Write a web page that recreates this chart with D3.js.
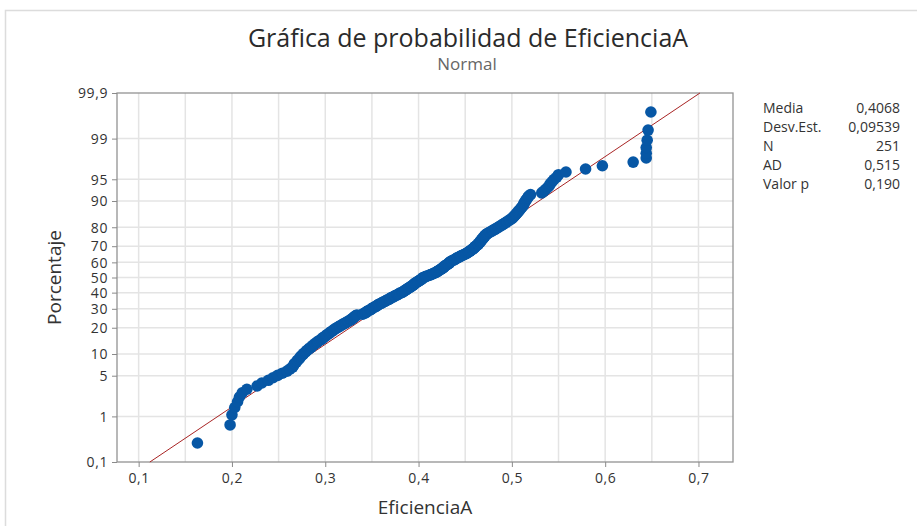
<!DOCTYPE html>
<html>
<head>
<meta charset="utf-8">
<script src="https://cdn.jsdelivr.net/npm/d3@7"></script>
<style>
  body { margin: 0; background: #fff; }
  svg { font-family: 'Open Sans', 'Noto Sans', sans-serif; }
</style>
</head>
<body>
<div id="chart"></div>
<script>
// EficienciaA, sorted
const eficienciaA = [
  0.163, 0.198, 0.200, 0.203, 0.206, 0.208, 0.211, 0.216, 0.227, 0.232,
  0.239, 0.244, 0.249, 0.254, 0.259, 0.262, 0.265, 0.266, 0.267, 0.269,
  0.270, 0.272, 0.273, 0.274, 0.276, 0.277, 0.279, 0.280, 0.282, 0.283,
  0.285, 0.286, 0.288, 0.289, 0.291, 0.292, 0.294, 0.296, 0.297, 0.298,
  0.300, 0.301, 0.302, 0.304, 0.305, 0.306, 0.308, 0.309, 0.310, 0.312,
  0.313, 0.315, 0.316, 0.318, 0.319, 0.321, 0.322, 0.324, 0.325, 0.327,
  0.328, 0.329, 0.330, 0.331, 0.332, 0.333, 0.334, 0.340, 0.341, 0.343,
  0.344, 0.345, 0.346, 0.348, 0.349, 0.350, 0.351, 0.352, 0.354, 0.355,
  0.356, 0.357, 0.358, 0.360, 0.361, 0.362, 0.364, 0.365, 0.366, 0.368,
  0.369, 0.370, 0.371, 0.373, 0.374, 0.375, 0.377, 0.378, 0.379, 0.380,
  0.382, 0.383, 0.384, 0.385, 0.386, 0.387, 0.388, 0.389, 0.390, 0.391,
  0.392, 0.393, 0.394, 0.395, 0.395, 0.396, 0.397, 0.398, 0.399, 0.400,
  0.401, 0.402, 0.403, 0.404, 0.404, 0.405, 0.407, 0.408, 0.410, 0.412,
  0.413, 0.415, 0.416, 0.418, 0.419, 0.420, 0.421, 0.422, 0.423, 0.424,
  0.425, 0.426, 0.427, 0.427, 0.428, 0.429, 0.430, 0.431, 0.432, 0.433,
  0.433, 0.434, 0.435, 0.436, 0.438, 0.439, 0.440, 0.441, 0.442, 0.444,
  0.445, 0.446, 0.448, 0.449, 0.451, 0.452, 0.453, 0.454, 0.455, 0.456,
  0.457, 0.458, 0.459, 0.460, 0.460, 0.461, 0.462, 0.463, 0.464, 0.464,
  0.465, 0.466, 0.466, 0.467, 0.467, 0.468, 0.469, 0.469, 0.470, 0.471,
  0.471, 0.472, 0.473, 0.474, 0.476, 0.477, 0.479, 0.480, 0.482, 0.483,
  0.485, 0.486, 0.488, 0.489, 0.491, 0.492, 0.494, 0.495, 0.497, 0.498,
  0.500, 0.501, 0.502, 0.503, 0.504, 0.505, 0.506, 0.507, 0.508, 0.509,
  0.510, 0.511, 0.512, 0.513, 0.513, 0.514, 0.515, 0.516, 0.517, 0.518,
  0.520, 0.532, 0.534, 0.536, 0.538, 0.540, 0.541, 0.543, 0.545, 0.548,
  0.550, 0.558, 0.579, 0.597, 0.630,
  0.644, 0.644, 0.644, 0.645, 0.646, 0.649
];

const media = 0.4068;
const desvEst = 0.09539;

const statLabels = ['Media', 'Desv.Est.', 'N', 'AD', 'Valor p'];
const statValues = ['0,4068', '0,09539', '251', '0,515', '0,190'];

const xTicks = [0.1, 0.2, 0.3, 0.4, 0.5, 0.6, 0.7];
const xGrid = [0.1, 0.15, 0.2, 0.25, 0.3, 0.35, 0.4, 0.45, 0.5, 0.55, 0.6, 0.65, 0.7];
const yTicks = [0.1, 1, 5, 10, 20, 30, 40, 50, 60, 70, 80, 90, 95, 99, 99.9];
const yTickLabels = ['0,1', '1', '5', '10', '20', '30', '40', '50', '60', '70', '80', '90', '95', '99', '99,9'];

// inverse normal cdf (Acklam)
function probit(p) {
  const a = [-3.969683028665376e+01, 2.209460984245205e+02, -2.759285104469687e+02, 1.383577518672690e+02, -3.066479806614716e+01, 2.506628277459239e+00];
  const b = [-5.447609879822406e+01, 1.615858368580409e+02, -1.556989798598866e+02, 6.680131188771972e+01, -1.328068155288572e+01];
  const c = [-7.784894002430293e-03, -3.223964580411365e-01, -2.400758277161838e+00, -2.549732539343734e+00, 4.374664141464968e+00, 2.938163982698783e+00];
  const d = [7.784695709041462e-03, 3.224671290700398e-01, 2.445134137142996e+00, 3.754408661907416e+00];
  const plow = 0.02425;
  let q, r;
  if (p < plow) {
    q = Math.sqrt(-2 * Math.log(p));
    return (((((c[0] * q + c[1]) * q + c[2]) * q + c[3]) * q + c[4]) * q + c[5]) /
      ((((d[0] * q + d[1]) * q + d[2]) * q + d[3]) * q + 1);
  } else if (p <= 1 - plow) {
    q = p - 0.5;
    r = q * q;
    return (((((a[0] * r + a[1]) * r + a[2]) * r + a[3]) * r + a[4]) * r + a[5]) * q /
      (((((b[0] * r + b[1]) * r + b[2]) * r + b[3]) * r + b[4]) * r + 1);
  }
  q = Math.sqrt(-2 * Math.log(1 - p));
  return -(((((c[0] * q + c[1]) * q + c[2]) * q + c[3]) * q + c[4]) * q + c[5]) /
    ((((d[0] * q + d[1]) * q + d[2]) * q + d[3]) * q + 1);
}

const W = 917, H = 526;
const mLeft = 117, mTop = 93, plotW = 616, plotH = 369;

const svg = d3.select('#chart').append('svg').attr('width', W).attr('height', H);

// outer frame of the pasted graph
svg.append('path')
  .attr('d', 'M5.5,' + H + ' V10.5 H' + W)
  .attr('fill', 'none')
  .attr('stroke', '#dcdcdc')
  .attr('stroke-width', 1.5);

const comma = d3.formatLocale({ decimal: ',', thousands: '.', grouping: [3], currency: ['', ''] });

const x = d3.scaleLinear().domain([0.0768, 0.7370]).range([mLeft, mLeft + plotW]);
const y = d3.scaleLinear().domain([probit(0.001), probit(0.999)]).range([mTop + plotH, mTop]);

// grid
const g = svg.append('g');
g.selectAll('.vgrid').data(xGrid).join('line')
  .attr('class', 'vgrid')
  .attr('x1', d => x(d)).attr('x2', d => x(d))
  .attr('y1', mTop).attr('y2', mTop + plotH)
  .attr('stroke', '#e4e4e4').attr('stroke-width', 1.5);
g.selectAll('.hgrid').data(yTicks.slice(1, -1)).join('line')
  .attr('class', 'hgrid')
  .attr('x1', mLeft).attr('x2', mLeft + plotW)
  .attr('y1', d => y(probit(d / 100))).attr('y2', d => y(probit(d / 100)))
  .attr('stroke', '#e4e4e4').attr('stroke-width', 1.5);

// plot frame
svg.append('rect')
  .attr('x', mLeft).attr('y', mTop)
  .attr('width', plotW).attr('height', plotH)
  .attr('fill', 'none').attr('stroke', '#939393').attr('stroke-width', 1.3);

// axes
const xAxis = d3.axisBottom(x).tickValues(xTicks).tickSize(5).tickPadding(6)
  .tickFormat(comma.format('.1f'));
const yAxis = d3.axisLeft(y).tickValues(yTicks.map(p => probit(p / 100))).tickSize(5).tickPadding(4)
  .tickFormat((d, i) => yTickLabels[i]);

const gx = svg.append('g').attr('transform', 'translate(0,' + (mTop + plotH) + ')').call(xAxis);
const gy = svg.append('g').attr('transform', 'translate(' + mLeft + ',0)').call(yAxis);
[gx, gy].forEach(a => {
  a.select('.domain').remove();
  a.selectAll('line').attr('stroke', '#8a8a8a');
  a.selectAll('text')
    .attr('fill', '#333')
    .style('font-size', '14px')
    .style('letter-spacing', '0.6px')
    .style('font-family', "'Open Sans', sans-serif");
});
gy.selectAll('text').attr('dy', '0.34em');

// fitted normal line
const zLo = probit(0.001), zHi = probit(0.999);
svg.append('line')
  .attr('x1', x(media + desvEst * zLo)).attr('y1', y(zLo))
  .attr('x2', x(media + desvEst * zHi)).attr('y2', y(zHi))
  .attr('stroke', '#a82424').attr('stroke-width', 1);

// points, median ranks
const n = eficienciaA.length;
svg.append('g').selectAll('circle')
  .data(eficienciaA)
  .join('circle')
  .attr('cx', d => x(d))
  .attr('cy', (d, i) => y(probit((i + 1 - 0.3) / (n + 0.4))))
  .attr('r', 5.8)
  .attr('fill', '#0757a5');

// titles
svg.append('text')
  .attr('x', 468).attr('y', 47)
  .attr('text-anchor', 'middle')
  .attr('fill', '#2b2b2b')
  .style('font-size', '25px')
  .text('Gráfica de probabilidad de EficienciaA');
svg.append('text')
  .attr('x', 467).attr('y', 70)
  .attr('text-anchor', 'middle')
  .attr('fill', '#666')
  .style('font-size', '17px')
  .text('Normal');

svg.append('text')
  .attr('x', 425).attr('y', 514)
  .attr('text-anchor', 'middle')
  .attr('fill', '#333')
  .style('font-size', '19px')
  .text('EficienciaA');
svg.append('text')
  .attr('transform', 'translate(61,' + (mTop + plotH / 2) + ') rotate(-90)')
  .attr('text-anchor', 'middle')
  .attr('fill', '#333')
  .style('font-size', '19px')
  .text('Porcentaje');

// stats table
const stats = svg.append('g').style('font-size', '14px').attr('fill', '#333');
stats.selectAll('.lab').data(statLabels).join('text')
  .attr('class', 'lab')
  .attr('x', 763).attr('y', (d, i) => 113 + i * 19)
  .text(d => d);
stats.selectAll('.val').data(statValues).join('text')
  .attr('class', 'val')
  .attr('x', 900).attr('y', (d, i) => 113 + i * 19)
  .attr('text-anchor', 'end')
  .text(d => d);
</script>
</body>
</html>
